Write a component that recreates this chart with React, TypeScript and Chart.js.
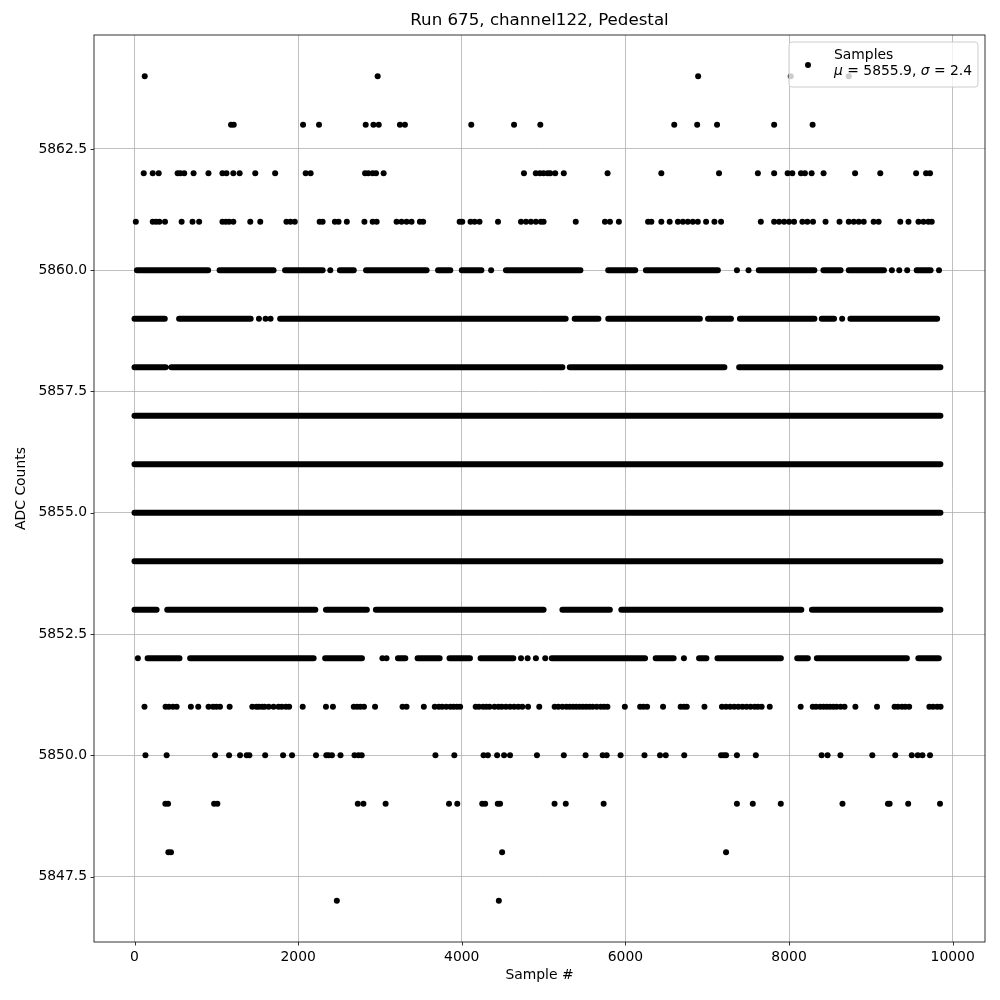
import React, { useEffect, useRef } from "react";
import { Chart, registerables } from "chart.js";

Chart.register(...registerables);

const titleText = "Run 675, channel122, Pedestal";
const xTicks = [0, 2000, 4000, 6000, 8000, 10000];
const yTicks = [5847.5, 5850, 5852.5, 5855, 5857.5, 5860, 5862.5];

// Dense levels: runs [start, end] of sample # where markers form a continuous band
const runs5860 = [[30, 900], [1040, 1700], [1840, 2300], [2510, 2680], [2830, 3570], [3710, 3860], [4000, 4240], [4540, 5450], [5790, 6120], [6250, 7130], [7630, 8310], [8420, 8630], [8730, 9160], [9560, 9730]];
const runs5859 = [[0, 370], [545, 1420], [1780, 5270], [5380, 5670], [5790, 6910], [7010, 7290], [7400, 8310], [8400, 8550], [8750, 9810]];
const runs5858 = [[0, 380], [450, 5230], [5320, 7210], [7390, 9850]];
const runs5857 = [[0, 9850]];
const runs5856 = [[0, 9850]];
const runs5855 = [[0, 9850]];
const runs5854 = [[0, 9850]];
const runs5853 = [[0, 270], [400, 2210], [2340, 2840], [2950, 5000], [5230, 5810], [5950, 8150], [8280, 9850]];
const runs5852 = [[160, 550], [680, 2190], [2330, 2780], [3220, 3310], [3460, 3730], [3850, 4100], [4230, 4630], [5100, 6240], [6370, 6590], [6900, 6990], [7125, 7900], [8100, 8230], [8340, 9440], [9580, 9830]];

const denseLevels = [5860, 5859, 5858, 5857, 5856, 5855, 5854, 5853, 5852];
const denseRuns = [runs5860, runs5859, runs5858, runs5857, runs5856, runs5855, runs5854, runs5853, runs5852];

// Isolated samples (sample # at each ADC level)
const pts5864 = [125, 2972, 6889, 8021, 8730];
const pts5863 = [1180, 1213, 2060, 2255, 2826, 2920, 2985, 3244, 3305, 4116, 4639, 4960, 6597, 6877, 7120, 7818, 8288];
const pts5862 = [113, 223, 296, 527, 560, 608, 722, 904, 1075, 1124, 1208, 1285, 1476, 1719, 2092, 2153, 2818, 2858, 2911, 2952, 3045, 4760, 4905, 4955, 5000, 5049, 5081, 5142, 5247, 5782, 6439, 7144, 7619, 7818, 7983, 8040, 8146, 8194, 8276, 8422, 8807, 9115, 9553, 9675, 9723];
const pts5861 = [16, 223, 264, 304, 373, 576, 709, 790, 1075, 1115, 1156, 1208, 1415, 1537, 1857, 1906, 1959, 2263, 2299, 2449, 2494, 2595, 2810, 2911, 2960, 3203, 3264, 3325, 3386, 3488, 3528, 3974, 4006, 4107, 4156, 4217, 4443, 4724, 4785, 4845, 4906, 4967, 5000, 5393, 5750, 5811, 5920, 6277, 6317, 6439, 6541, 6642, 6703, 6763, 6824, 6885, 6986, 7088, 7169, 7655, 7818, 7879, 7940, 8000, 8061, 8163, 8224, 8293, 8446, 8617, 8730, 8791, 8852, 8913, 9034, 9095, 9359, 9460, 9582, 9643, 9703, 9744];
const pts5860 = [2393, 4359, 7363, 7505, 9257, 9347, 9444, 9833];
const pts5859 = [1521, 1602, 1663, 8649];
const pts5852 = [41, 3030, 3080, 4724, 4805, 4906, 5020, 6715];
const pts5851 = [122, 380, 420, 470, 515, 689, 779, 905, 960, 1000, 1045, 1163, 1440, 1490, 1520, 1560, 1590, 1640, 1700, 1760, 1800, 1850, 1890, 2056, 2340, 2425, 2680, 2720, 2760, 2805, 2940, 3276, 3325, 3536, 3670, 3720, 3760, 3810, 3860, 3900, 3940, 3980, 4170, 4210, 4260, 4300, 4340, 4400, 4450, 4490, 4540, 4590, 4640, 4690, 4740, 4810, 4947, 5135, 5180, 5230, 5280, 5320, 5360, 5400, 5440, 5480, 5520, 5560, 5600, 5650, 5700, 5740, 5780, 5993, 6180, 6220, 6265, 6460, 6675, 6715, 6750, 6966, 7180, 7230, 7280, 7330, 7380, 7430, 7480, 7530, 7580, 7620, 7665, 7764, 8142, 8290, 8330, 8380, 8420, 8460, 8500, 8540, 8580, 8630, 8678, 8811, 9075, 9290, 9330, 9380, 9420, 9468, 9715, 9760, 9810, 9852];
const pts5850 = [134, 393, 985, 1156, 1290, 1371, 1404, 1597, 1816, 1926, 2218, 2344, 2372, 2413, 2518, 2689, 2737, 2777, 3678, 3909, 4266, 4319, 4432, 4517, 4590, 4919, 5247, 5513, 5722, 5771, 5941, 6233, 6423, 6493, 6719, 7169, 7202, 7230, 7363, 7594, 8398, 8471, 8628, 9018, 9298, 9500, 9573, 9630, 9723];
const pts5849 = [377, 410, 973, 1013, 2729, 2798, 3069, 3844, 3945, 4250, 4286, 4440, 4468, 5134, 5271, 5734, 7363, 7557, 7899, 8653, 9209, 9229, 9456, 9845];
const pts5848 = [414, 446, 4493, 7230];
const pts5847 = [2473, 4453];

const sparseLevels = [5864, 5863, 5862, 5861, 5860, 5859, 5852, 5851, 5850, 5849, 5848, 5847];
const sparsePts = [pts5864, pts5863, pts5862, pts5861, pts5860, pts5859, pts5852, pts5851, pts5850, pts5849, pts5848, pts5847];

const FONT = "DejaVu Sans";
const FS = 13.9;

export default function App() {
  const ref = useRef<HTMLCanvasElement>(null);
  useEffect(() => {
    document.body.style.margin = "0";
    const canvas = ref.current!;
    const runData: any[] = [];
    denseLevels.forEach((lvl, i) => {
      denseRuns[i].forEach(([a, b]) => {
        runData.push({ x: a, y: lvl });
        runData.push({ x: b, y: lvl });
        runData.push({ x: b, y: null });
      });
    });
    const ptData: any[] = [];
    sparseLevels.forEach((lvl, i) => {
      sparsePts[i].forEach((x) => ptData.push({ x, y: lvl }));
    });

    const overlay = {
      id: "overlay",
      afterDatasetsDraw(chart: any) {
        const { ctx, chartArea: ca, scales } = chart;
        ctx.save();
        ctx.strokeStyle = "#000";
        ctx.lineWidth = 0.8;
        ctx.strokeRect(ca.left, ca.top, ca.right - ca.left, ca.bottom - ca.top);
        ctx.beginPath();
        xTicks.forEach((v) => {
          const px = Math.round(scales.x.getPixelForValue(v)) + 0.5;
          ctx.moveTo(px, ca.bottom);
          ctx.lineTo(px, ca.bottom + 3.5);
        });
        yTicks.forEach((v) => {
          const py = Math.round(scales.y.getPixelForValue(v)) + 0.5;
          ctx.moveTo(ca.left, py);
          ctx.lineTo(ca.left - 3.5, py);
        });
        ctx.stroke();
        ctx.restore();
      },
      afterDraw(chart: any) {
        const { ctx, chartArea: ca } = chart;
        ctx.save();
        // title
        ctx.fillStyle = "#000";
        ctx.font = `16.67px "${FONT}"`;
        ctx.textAlign = "center";
        ctx.textBaseline = "middle";
        ctx.fillText(titleText, (ca.left + ca.right) / 2, 21);
        // legend
        const bx = 789, by = 42, bw = 189, bh = 45, r = 3;
        ctx.beginPath();
        ctx.moveTo(bx + r, by);
        ctx.lineTo(bx + bw - r, by);
        ctx.arcTo(bx + bw, by, bx + bw, by + r, r);
        ctx.lineTo(bx + bw, by + bh - r);
        ctx.arcTo(bx + bw, by + bh, bx + bw - r, by + bh, r);
        ctx.lineTo(bx + r, by + bh);
        ctx.arcTo(bx, by + bh, bx, by + bh - r, r);
        ctx.lineTo(bx, by + r);
        ctx.arcTo(bx, by, bx + r, by, r);
        ctx.closePath();
        ctx.fillStyle = "rgba(255,255,255,0.8)";
        ctx.fill();
        ctx.strokeStyle = "#cccccc";
        ctx.lineWidth = 1;
        ctx.stroke();
        ctx.fillStyle = "#000";
        ctx.beginPath();
        ctx.arc(808, 65, 3, 0, Math.PI * 2);
        ctx.fill();
        ctx.textAlign = "left";
        ctx.textBaseline = "middle";
        ctx.font = `${FS}px "${FONT}"`;
        ctx.fillText("Samples", 834, 55);
        let x = 834;
        const y2 = 71.5;
        const parts: [string, boolean][] = [["μ", true], [" = 5855.9, ", false], ["σ", true], [" = 2.4", false]];
        parts.forEach(([t, it]) => {
          ctx.font = `${it ? "italic " : ""}${FS}px "${FONT}"`;
          ctx.fillText(t, x, y2);
          x += ctx.measureText(t).width;
        });
        ctx.restore();
      },
    };

    const chart = new Chart(canvas, {
      type: "scatter",
      data: {
        datasets: [
          {
            label: "runs",
            data: runData,
            showLine: true,
            spanGaps: false,
            borderColor: "#000",
            borderWidth: 6,
            borderCapStyle: "round",
            pointRadius: 0,
            pointHoverRadius: 0,
          } as any,
          {
            label: "Samples",
            data: ptData,
            backgroundColor: "#000",
            borderWidth: 0,
            pointRadius: 3,
            pointHoverRadius: 3,
          },
        ],
      },
      options: {
        animation: false,
        responsive: false,
        devicePixelRatio: 1,
        layout: { padding: { left: 0, top: 35, right: 15, bottom: 0 } },
        plugins: { legend: { display: false }, title: { display: false }, tooltip: { enabled: false } },
        events: [],
        scales: {
          x: {
            type: "linear",
            min: -495,
            max: 10395,
            afterBuildTicks: (s: any) => { s.ticks = xTicks.map((v) => ({ value: v })); },
            afterFit: (s: any) => { s.height = 58; },
            ticks: { color: "#000", font: { family: FONT, size: FS }, padding: 7, maxRotation: 0, autoSkip: false, callback: (v: any) => String(v) },
            grid: { color: "#b0b0b0", lineWidth: 0.8, drawTicks: false },
            border: { display: false },
            title: { display: true, text: "Sample #", color: "#000", font: { family: FONT, size: FS }, padding: { top: 0, bottom: 16 } },
          },
          y: {
            type: "linear",
            min: 5846.15,
            max: 5864.85,
            afterBuildTicks: (s: any) => { s.ticks = yTicks.map((v) => ({ value: v })); },
            afterFit: (s: any) => { s.width = 94; },
            ticks: { color: "#000", font: { family: FONT, size: FS }, padding: 7, autoSkip: false, callback: (v: any) => Number(v).toFixed(1) },
            grid: { color: "#b0b0b0", lineWidth: 0.8, drawTicks: false },
            border: { display: false },
            title: { display: true, text: "ADC Counts", color: "#000", font: { family: FONT, size: FS }, padding: { top: 13, bottom: 0 } },
          },
        },
      } as any,
      plugins: [overlay],
    });
    return () => chart.destroy();
  }, []);
  return (
    <div style={{ position: "absolute", left: 0, top: 0, width: 1000, height: 1000, background: "#fff" }}>
      <canvas ref={ref} width={1000} height={1000} style={{ width: 1000, height: 1000, display: "block" }} />
    </div>
  );
}
